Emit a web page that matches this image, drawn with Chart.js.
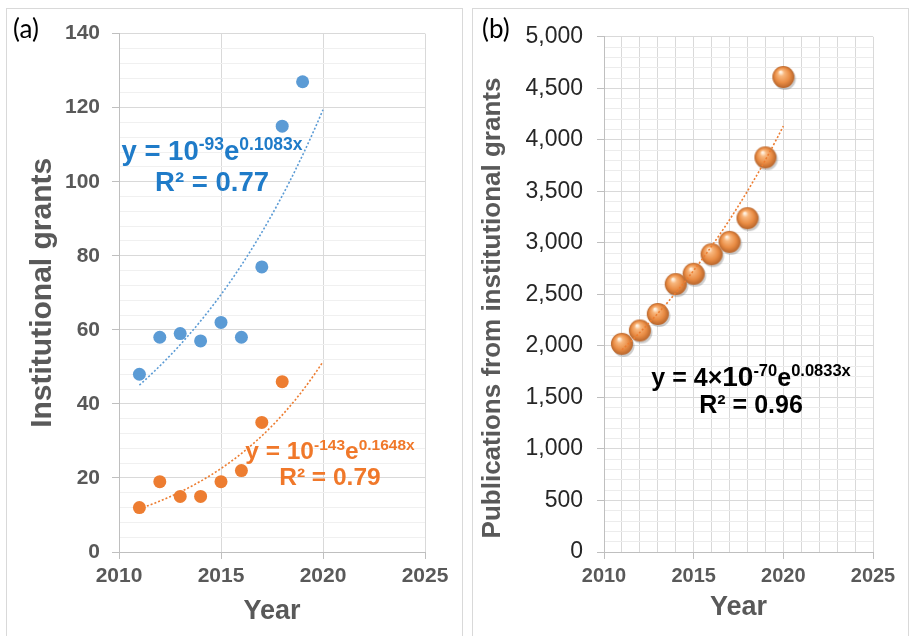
<!DOCTYPE html>
<html><head><meta charset="utf-8">
<script src="https://cdn.jsdelivr.net/npm/chart.js@4/dist/chart.umd.min.js"></script>
<style>
html,body{margin:0;padding:0;background:#fff;}
body{width:909px;height:636px;position:relative;overflow:hidden;}
.panel{position:absolute;top:8px;border:1px solid #d9d9d9;border-bottom:none;background:#fff;}
#pa{left:6px;width:455px;height:640px;}
#pb{left:472px;width:435px;height:640px;}
canvas{display:block;}
</style></head><body>
<div class="panel" id="pa"><canvas id="ca" width="455" height="628"></canvas></div>
<div class="panel" id="pb"><canvas id="cb" width="435" height="628"></canvas></div>
<script>
// ---------------- DATA ----------------
const yearsBlue = [2011, 2012, 2013, 2014, 2015, 2016, 2017, 2018, 2019];
const grantsBlue = [48, 58, 59, 57, 62, 58, 77, 115, 127];
const yearsOrange = [2011, 2012, 2013, 2014, 2015, 2016, 2017, 2018];
const grantsOrange = [12, 19, 15, 15, 19, 22, 35, 46];
const yearsPubs = [2011, 2012, 2013, 2014, 2015, 2016, 2017, 2018, 2019, 2020];
const publications = [2020, 2150, 2310, 2600, 2700, 2890, 3010, 3240, 3830, 4610];
const xTickLabels = [2010, 2015, 2020, 2025];
const leftYTickLabels = [0, 20, 40, 60, 80, 100, 120, 140];
const rightYTickLabels = [0, 500, 1000, 1500, 2000, 2500, 3000, 3500, 4000, 4500, 5000];
const trendEndYear = 2020;

// ---------------- HELPERS ----------------
const SANS = '"Liberation Sans", Arial, sans-serif';
function expFit(xs, ys) {
  const n = xs.length, lx = ys.map(Math.log);
  const mx = xs.reduce((a, b) => a + b) / n, my = lx.reduce((a, b) => a + b) / n;
  let sxy = 0, sxx = 0;
  xs.forEach((x, i) => { sxy += (x - mx) * (lx[i] - my); sxx += (x - mx) * (x - mx); });
  const b = sxy / sxx;
  return x => Math.exp(my + b * (x - mx));
}
function trendPoints(f, x0, x1) {
  const pts = [];
  for (let k = 0; k <= 60; k++) { const x = x0 + (x1 - x0) * k / 60; pts.push({x, y: f(x)}); }
  return pts;
}
function pairs(xs, ys) { return xs.map((x, i) => ({x, y: ys[i]})); }
function makeBall(r) {
  const s = 2 * r + 8, c = document.createElement('canvas');
  c.width = s; c.height = s;
  const g = c.getContext('2d'), cx = s / 2, cy = s / 2;
  g.beginPath(); g.arc(cx + 1.5, cy + 2, r, 0, 2 * Math.PI);
  g.fillStyle = 'rgba(110,110,110,0.35)'; g.fill();
  const grd = g.createRadialGradient(cx - r * 0.25, cy - r * 0.45, r * 0.08, cx, cy, r);
  grd.addColorStop(0, '#fff1e0'); grd.addColorStop(0.22, '#f8b67c');
  grd.addColorStop(0.65, '#e98c44'); grd.addColorStop(1, '#b8652b');
  g.beginPath(); g.arc(cx, cy, r, 0, 2 * Math.PI); g.fillStyle = grd; g.fill();
  return c;
}
function drawRich(ctx, pieces, cx, baseline, color) {
  ctx.save();
  ctx.fillStyle = color; ctx.textBaseline = 'alphabetic'; ctx.textAlign = 'left';
  let w = 0;
  pieces.forEach(p => { ctx.font = 'bold ' + p.size + 'px ' + SANS; p.w = ctx.measureText(p.t).width; w += p.w; });
  let x = cx - w / 2;
  pieces.forEach(p => { ctx.font = 'bold ' + p.size + 'px ' + SANS; ctx.fillText(p.t, x, baseline - (p.rise || 0)); x += p.w; });
  ctx.restore();
}
function textPlugin(drawFn) {
  return { id: 'txt', afterDatasetsDraw(chart) { drawFn(chart, chart.ctx); } };
}
const isMajor = (v, step) => Math.abs(Math.round(v) % step) === 0;

// ---------------- CHART (a) ----------------
const fitBlue = expFit(yearsBlue, grantsBlue);
const fitOrange = expFit(yearsOrange, grantsOrange);
const leftStep = leftYTickLabels[1] - leftYTickLabels[0];

new Chart(document.getElementById('ca'), {
  type: 'scatter',
  data: { datasets: [
    { data: trendPoints(fitBlue, yearsBlue[0], trendEndYear), showLine: true, borderColor: '#5B9BD5', borderWidth: 1.6, borderDash: [2, 2], pointRadius: 0, order: 0 },
    { data: trendPoints(fitOrange, yearsOrange[0], trendEndYear), showLine: true, borderColor: '#ED7D31', borderWidth: 1.6, borderDash: [2, 2], pointRadius: 0, order: 0 },
    { data: pairs(yearsBlue, grantsBlue), pointRadius: 6.5, backgroundColor: '#5B9BD5', borderWidth: 0, order: 1 },
    { data: pairs(yearsOrange, grantsOrange), pointRadius: 6.5, backgroundColor: '#ED7D31', borderWidth: 0, order: 1 }
  ]},
  options: {
    responsive: false, animation: false, events: [],
    layout: { padding: { top: 19, right: 37, left: 0, bottom: 0 } },
    plugins: { legend: { display: false }, tooltip: { enabled: false } },
    scales: {
      x: {
        type: 'linear', min: xTickLabels[0], max: xTickLabels[xTickLabels.length - 1],
        afterFit: s => { s.height = 85; },
        ticks: { stepSize: xTickLabels[1] - xTickLabels[0], autoSkip: false, maxRotation: 0, padding: 5,
          color: '#595959', font: { family: SANS, size: 21, weight: 'bold' },
          callback: v => xTickLabels.includes(Math.round(v)) ? String(Math.round(v)) : '' },
        grid: { color: '#d9d9d9', tickLength: 7, tickColor: '#bfbfbf', lineWidth: 1 },
        border: { color: '#bfbfbf' },
        title: { display: true, text: 'Year', color: '#595959', font: { family: SANS, size: 27, weight: 'bold' }, padding: { top: 0, bottom: 9 } }
      },
      y: {
        min: leftYTickLabels[0], max: leftYTickLabels[leftYTickLabels.length - 1],
        afterFit: s => { s.width = 112; },
        ticks: { stepSize: 4, autoSkip: false, padding: 12, color: '#595959',
          font: { family: SANS, size: 21, weight: 'bold' },
          callback: v => leftYTickLabels.includes(Math.round(v)) ? String(Math.round(v)) : '' },
        grid: { tickLength: 7,
          color: c => isMajor(c.tick.value, leftStep) ? '#d9d9d9' : '#f0f0f0',
          tickColor: c => isMajor(c.tick.value, leftStep) ? '#bfbfbf' : 'rgba(0,0,0,0)' },
        border: { color: '#bfbfbf' },
        title: { display: true, text: 'Institutional grants', color: '#595959', font: { family: SANS, size: 30, weight: 'bold' }, padding: { top: 18, bottom: 0 } }
      }
    }
  },
  plugins: [textPlugin((chart, ctx) => {
    const xs = chart.scales.x, ys = chart.scales.y;
    ctx.save();
    ctx.fillStyle = '#000'; ctx.font = '26px Lato, "Open Sans", sans-serif'; ctx.textBaseline = 'alphabetic';
    ctx.fillText('(a)', 6, 28.5);
    ctx.restore();
    const blue = '#1F7BC8', orange = '#F0782A';
    drawRich(ctx, [
      {t: 'y = 10', size: 27.5}, {t: '-93', size: 17.5, rise: 10}, {t: 'e', size: 27.5}, {t: '0.1083x', size: 17.5, rise: 10}
    ], xs.getPixelForValue(2014.56), ys.getPixelForValue(105.8), blue);
    drawRich(ctx, [{t: 'R² = 0.77', size: 27.5}], xs.getPixelForValue(2014.56), ys.getPixelForValue(97.5), blue);
    drawRich(ctx, [
      {t: 'y = 10', size: 24.5}, {t: '-143', size: 15.5, rise: 9}, {t: 'e', size: 24.5}, {t: '0.1648x', size: 15.5, rise: 9}
    ], xs.getPixelForValue(2020.34), ys.getPixelForValue(25.1), orange);
    drawRich(ctx, [{t: 'R² = 0.79', size: 24.5}], xs.getPixelForValue(2020.34), ys.getPixelForValue(18.2), orange);
  })]
});

// ---------------- CHART (b) ----------------
const fitPubs = expFit(yearsPubs, publications);
const rightStep = rightYTickLabels[1] - rightYTickLabels[0];
const ball = makeBall(11);

new Chart(document.getElementById('cb'), {
  type: 'scatter',
  data: { datasets: [
    { data: trendPoints(fitPubs, yearsPubs[0], trendEndYear), showLine: true, borderColor: '#ED7D31', borderWidth: 1.6, borderDash: [2, 2], pointRadius: 0, order: 0 },
    { data: pairs(yearsPubs, publications), pointStyle: ball, pointRadius: 11, order: 1 }
  ]},
  options: {
    responsive: false, animation: false, events: [],
    layout: { padding: { top: 19, right: 35, left: 0, bottom: 0 } },
    plugins: { legend: { display: false }, tooltip: { enabled: false } },
    scales: {
      x: {
        type: 'linear', min: xTickLabels[0], max: xTickLabels[xTickLabels.length - 1],
        afterFit: s => { s.height = 85; },
        ticks: { stepSize: 1, autoSkip: false, maxRotation: 0, padding: 5,
          color: '#595959', font: { family: SANS, size: 20, weight: 'bold' },
          callback: v => xTickLabels.includes(Math.round(v)) ? String(Math.round(v)) : '' },
        grid: { color: '#d9d9d9', tickLength: 7,
          tickColor: c => xTickLabels.includes(Math.round(c.tick.value)) ? '#bfbfbf' : 'rgba(0,0,0,0)' },
        border: { color: '#bfbfbf' },
        title: { display: true, text: 'Year', color: '#595959', font: { family: SANS, size: 27, weight: 'bold' }, padding: { top: 0, bottom: 13 } }
      },
      y: {
        min: rightYTickLabels[0], max: rightYTickLabels[rightYTickLabels.length - 1],
        afterFit: s => { s.width = 131; },
        ticks: { stepSize: 100, autoSkip: false, padding: 14, color: '#262626',
          font: { family: SANS, size: 23 },
          callback: v => rightYTickLabels.includes(Math.round(v)) ? Math.round(v).toLocaleString('en-US') : '' },
        grid: { tickLength: 7,
          color: c => isMajor(c.tick.value, rightStep) ? '#d9d9d9' : '#ececec',
          tickColor: c => isMajor(c.tick.value, rightStep) ? '#bfbfbf' : 'rgba(0,0,0,0)' },
        border: { color: '#bfbfbf' },
        title: { display: false }
      }
    }
  },
  plugins: [textPlugin((chart, ctx) => {
    const xs = chart.scales.x, ys = chart.scales.y;
    ctx.save();
    ctx.fillStyle = '#000'; ctx.font = '26px Lato, "Open Sans", sans-serif'; ctx.textBaseline = 'alphabetic';
    ctx.fillText('(b)', 9, 28.5);
    ctx.translate(20, 299); ctx.rotate(-Math.PI / 2);
    ctx.fillStyle = '#595959'; ctx.font = 'bold 26px ' + SANS; ctx.textAlign = 'center'; ctx.textBaseline = 'middle';
    ctx.fillText('Publications from institutional grants', 0, 0);
    ctx.restore();
    drawRich(ctx, [
      {t: 'y = 4×', size: 25}, {t: '10', size: 28}, {t: '-70', size: 16.5, rise: 10}, {t: 'e', size: 25}, {t: '0.0833x', size: 16.5, rise: 10}
    ], xs.getPixelForValue(2018.2), ys.getPixelForValue(1613), '#000');
    drawRich(ctx, [{t: 'R² = 0.96', size: 25}], xs.getPixelForValue(2018.2), ys.getPixelForValue(1345), '#000');
  })]
});
</script>
</body></html>
